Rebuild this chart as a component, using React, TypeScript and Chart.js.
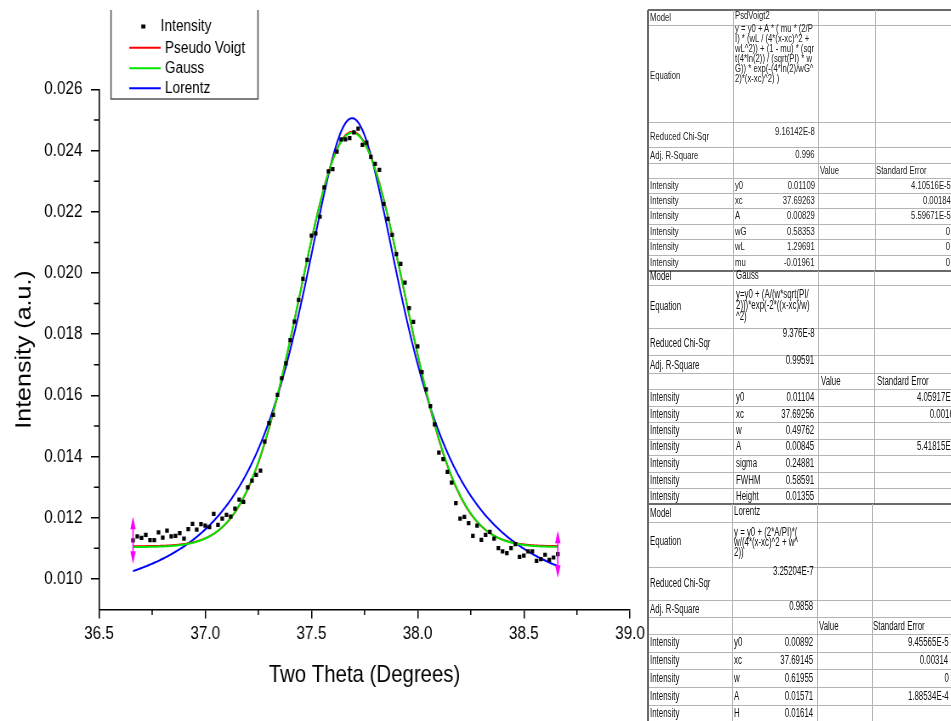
import { useEffect, useRef } from "react";
import { Chart, registerables } from "chart.js";

Chart.register(...registerables);

// ---- measured pattern (2θ in degrees, intensity in a.u.) ----
const twoTheta = [
  36.66, 36.68, 36.70, 36.72, 36.74, 36.76, 36.78, 36.80, 36.82, 36.84,
  36.86, 36.88, 36.90, 36.92, 36.94, 36.96, 36.98, 37.00, 37.02, 37.04,
  37.06, 37.08, 37.10, 37.12, 37.14, 37.16, 37.18, 37.20, 37.22, 37.24,
  37.26, 37.28, 37.30, 37.32, 37.34, 37.36, 37.38, 37.40, 37.42, 37.44,
  37.46, 37.48, 37.50, 37.52, 37.54, 37.56, 37.58, 37.60, 37.62, 37.64,
  37.66, 37.68, 37.70, 37.72, 37.74, 37.76, 37.78, 37.80, 37.82, 37.84,
  37.86, 37.88, 37.90, 37.92, 37.94, 37.96, 37.98, 38.00, 38.02, 38.04,
  38.06, 38.08, 38.10, 38.12, 38.14, 38.16, 38.18, 38.20, 38.22, 38.24,
  38.26, 38.28, 38.30, 38.32, 38.34, 38.36, 38.38, 38.40, 38.42, 38.44,
  38.46, 38.48, 38.50, 38.52, 38.54, 38.56, 38.58, 38.60, 38.62, 38.64,
  38.66,
];

const intensity = [
  0.01126, 0.01139, 0.01134, 0.01144, 0.01127, 0.01127, 0.01152, 0.01135, 0.01158, 0.01139,
  0.01141, 0.01150, 0.01132, 0.01163, 0.01180, 0.01161, 0.01179, 0.01174, 0.01169, 0.01213,
  0.01177, 0.01197, 0.01209, 0.01204, 0.01230, 0.01259, 0.01252, 0.01299, 0.01321, 0.01340,
  0.01354, 0.01449, 0.01509, 0.01536, 0.01602, 0.01656, 0.01705, 0.01781, 0.01841, 0.01912,
  0.01981, 0.02043, 0.02122, 0.02130, 0.02184, 0.02280, 0.02332, 0.02340, 0.02397, 0.02437,
  0.02437, 0.02441, 0.02460, 0.02472, 0.02419, 0.02426, 0.02380, 0.02357, 0.02337, 0.02226,
  0.02177, 0.02125, 0.02062, 0.02030, 0.01969, 0.01885, 0.01840, 0.01760, 0.01676, 0.01620,
  0.01565, 0.01505, 0.01413, 0.01392, 0.01350, 0.01315, 0.01248, 0.01197, 0.01203, 0.01182,
  0.01141, 0.01174, 0.01128, 0.01144, 0.01154, 0.01132, 0.01101, 0.01090, 0.01084, 0.01101,
  0.01114, 0.01072, 0.01076, 0.01090, 0.01090, 0.01059, 0.01065, 0.01079, 0.01062, 0.01070,
  0.01081,
];

const xTicks = [36.5, 37.0, 37.5, 38.0, 38.5, 39.0];
const xMinorTicks = [36.75, 37.25, 37.75, 38.25, 38.75];
const yTicks = [0.01, 0.012, 0.014, 0.016, 0.018, 0.02, 0.022, 0.024, 0.026];
const yMinorTicks = [0.011, 0.013, 0.015, 0.017, 0.019, 0.021, 0.023, 0.025];

const legendLabels = ["Intensity", "Pseudo Voigt", "Gauss", "Lorentz"];
const seriesColors = ["#000000", "#ff0000", "#00e600", "#0000ff"];

// ---- fit reports: [parameter, value, standard error] ----
const psdVoigtRows = [
  ["y0", "0.01109", "4.10516E-5"],
  ["xc", "37.69263", "0.00184"],
  ["A", "0.00829", "5.59671E-5"],
  ["wG", "0.58353", "0"],
  ["wL", "1.29691", "0"],
  ["mu", "-0.01961", "0"],
];
const psdVoigtEquation = [
  "y = y0 + A * ( mu * (2/P",
  "I) * (wL / (4*(x-xc)^2 +",
  "wL^2)) + (1 - mu) * (sqr",
  "t(4*ln(2)) / (sqrt(PI) * w",
  "G)) * exp(-(4*ln(2)/wG^",
  "2)*(x-xc)^2) )",
];
const psdVoigtStats = ["9.16142E-8", "0.996"];

const gaussRows = [
  ["y0", "0.01104", "4.05917E-5"],
  ["xc", "37.69256", "0.00165"],
  ["w", "0.49762", "0"],
  ["A", "0.00845", "5.41815E-5"],
  ["sigma", "0.24881", ""],
  ["FWHM", "0.58591", ""],
  ["Height", "0.01355", ""],
];
const gaussEquation = ["y=y0 + (A/(w*sqrt(PI/", "2)))*exp(-2*((x-xc)/w)", "^2)"];
const gaussStats = ["9.376E-8", "0.99591"];

const lorentzRows = [
  ["y0", "0.00892", "9.45565E-5"],
  ["xc", "37.69145", "0.00314"],
  ["w", "0.61955", "0"],
  ["A", "0.01571", "1.88534E-4"],
  ["H", "0.01614", ""],
];
const lorentzEquation = ["y = y0 + (2*A/PI)*(", "w/(4*(x-xc)^2 + w^", "2))"];
const lorentzStats = ["3.25204E-7", "0.9858"];

const FONT = "'Liberation Sans', Arial, Helvetica, sans-serif";
const SQUEEZE = 0.85; // horizontal squeeze applied to the plot panel
const PANEL_W = 790;
const PANEL_H = 721;

const param = (rows: string[][], name: string) => Number(rows.find((r) => r[0] === name)![1]);

// model functions, evaluated with the reported parameters
function psdVoigt(x: number) {
  const y0 = param(psdVoigtRows, "y0"), xc = param(psdVoigtRows, "xc"), A = param(psdVoigtRows, "A");
  const wG = param(psdVoigtRows, "wG"), wL = param(psdVoigtRows, "wL"), mu = param(psdVoigtRows, "mu");
  const d = x - xc;
  const lor = (2 / Math.PI) * (wL / (4 * d * d + wL * wL));
  const gau = (Math.sqrt(4 * Math.LN2) / (Math.sqrt(Math.PI) * wG)) * Math.exp((-4 * Math.LN2 / (wG * wG)) * d * d);
  return y0 + A * (mu * lor + (1 - mu) * gau);
}
function gauss(x: number) {
  const y0 = param(gaussRows, "y0"), xc = param(gaussRows, "xc"), w = param(gaussRows, "w"), A = param(gaussRows, "A");
  return y0 + (A / (w * Math.sqrt(Math.PI / 2))) * Math.exp(-2 * ((x - xc) / w) ** 2);
}
function lorentz(x: number) {
  const y0 = param(lorentzRows, "y0"), xc = param(lorentzRows, "xc"), w = param(lorentzRows, "w"), A = param(lorentzRows, "A");
  return y0 + ((2 * A) / Math.PI) * (w / (4 * (x - xc) ** 2 + w * w));
}

function fitCurve(f: (x: number) => number) {
  const x0 = twoTheta[0];
  const x1 = twoTheta[twoTheta.length - 1];
  const n = 400;
  const pts = [];
  for (let i = 0; i <= n; i++) {
    const x = x0 + ((x1 - x0) * i) / n;
    pts.push({ x, y: f(x) });
  }
  return pts;
}

// minor ticks, fit-range markers and the legend box
const decorPlugin = {
  id: "decor",
  afterDraw(chart: any) {
    const ctx = chart.ctx as CanvasRenderingContext2D;
    const xs = chart.scales.x;
    const ys = chart.scales.y;
    const area = chart.chartArea;
    ctx.save();
    ctx.strokeStyle = "#000";
    ctx.lineWidth = 1.5;
    ctx.beginPath();
    for (const v of xMinorTicks) {
      const px = xs.getPixelForValue(v);
      ctx.moveTo(px, area.bottom);
      ctx.lineTo(px, area.bottom + 5.5);
    }
    for (const v of yMinorTicks) {
      const py = ys.getPixelForValue(v);
      ctx.moveTo(area.left - 6, py);
      ctx.lineTo(area.left, py);
    }
    ctx.stroke();

    // fit range markers at the first and last data point
    ctx.strokeStyle = "#ff00ff";
    ctx.fillStyle = "#ff00ff";
    for (const i of [0, twoTheta.length - 1]) {
      const px = xs.getPixelForValue(twoTheta[i]);
      const py = ys.getPixelForValue(intensity[i]);
      const half = 23.5;
      ctx.lineWidth = 1.5;
      ctx.beginPath();
      ctx.moveTo(px, py - half + 4);
      ctx.lineTo(px, py + half - 4);
      ctx.stroke();
      ctx.beginPath();
      ctx.moveTo(px, py - half);
      ctx.lineTo(px - 3.2, py - half + 12.5);
      ctx.lineTo(px + 3.2, py - half + 12.5);
      ctx.closePath();
      ctx.fill();
      ctx.beginPath();
      ctx.moveTo(px, py + half);
      ctx.lineTo(px - 3.2, py + half - 12.5);
      ctx.lineTo(px + 3.2, py + half - 12.5);
      ctx.closePath();
      ctx.fill();
    }

    // legend
    ctx.strokeStyle = "#555";
    ctx.lineWidth = 1.5;
    ctx.beginPath();
    ctx.moveTo(130.6, 10);
    ctx.lineTo(130.6, 99);
    ctx.lineTo(303.5, 99);
    ctx.lineTo(303.5, 10);
    ctx.stroke();

    ctx.font = `16px ${FONT}`;
    ctx.textBaseline = "middle";
    ctx.textAlign = "left";
    ctx.fillStyle = seriesColors[0];
    ctx.fillRect(168.6 - 2.4, 24.5, 4.8, 4);
    ctx.fillText(legendLabels[0], 189.1, 27);
    const rowsY = [47.7, 68.3, 88.3];
    for (let k = 1; k < legendLabels.length; k++) {
      const y = rowsY[k - 1];
      ctx.strokeStyle = seriesColors[k];
      ctx.lineWidth = 2;
      ctx.beginPath();
      ctx.moveTo(152.1, y);
      ctx.lineTo(189.1, y);
      ctx.stroke();
      ctx.fillStyle = "#000";
      ctx.fillText(legendLabels[k], 194.1, y + 0.5);
    }
    ctx.restore();
  },
};

function PlotPanel() {
  const ref = useRef<HTMLCanvasElement | null>(null);
  useEffect(() => {
    if (!ref.current) return;
    const chart = new Chart(ref.current, {
      type: "scatter",
      data: {
        datasets: [
          {
            label: legendLabels[0],
            data: twoTheta.map((x, i) => ({ x, y: intensity[i] })),
            pointStyle: "rect",
            pointRadius: 3,
            pointBorderWidth: 0,
            backgroundColor: seriesColors[0],
            borderColor: seriesColors[0],
            showLine: false,
            order: 0,
          },
          {
            label: legendLabels[1],
            data: fitCurve(psdVoigt),
            showLine: true,
            pointRadius: 0,
            borderColor: seriesColors[1],
            borderWidth: 2,
            order: 2,
          },
          {
            label: legendLabels[2],
            data: fitCurve(gauss),
            showLine: true,
            pointRadius: 0,
            borderColor: seriesColors[2],
            borderWidth: 2,
            order: 1,
          },
          {
            label: legendLabels[3],
            data: fitCurve(lorentz),
            showLine: true,
            pointRadius: 0,
            borderColor: seriesColors[3],
            borderWidth: 2,
            order: 3,
          },
        ],
      } as any,
      options: {
        animation: false,
        responsive: false,
        devicePixelRatio: 1,
        events: [],
        layout: { padding: { left: 0, top: 89.5, right: PANEL_W - 741.2, bottom: 0 } },
        plugins: { legend: { display: false }, tooltip: { enabled: false } },
        scales: {
          x: {
            type: "linear",
            min: 36.5,
            max: 39,
            afterBuildTicks: (s: any) => {
              s.ticks = xTicks.map((v) => ({ value: v }));
            },
            afterFit: (s: any) => {
              s.height = 111.5;
            },
            ticks: {
              callback: (v: any) => Number(v).toFixed(1),
              font: { family: FONT, size: 18 },
              color: "#000",
              padding: 5,
              maxRotation: 0,
              autoSkip: false,
            },
            grid: { drawOnChartArea: false, tickLength: 9, color: "#000", lineWidth: 1.5 },
            border: { display: true, color: "#000", width: 1.5 },
            title: {
              display: true,
              text: "Two Theta (Degrees)",
              font: { family: FONT, size: 24 },
              color: "#000",
              padding: { top: 0, bottom: 31.6 },
            },
          },
          y: {
            type: "linear",
            min: 0.009,
            max: 0.026,
            afterBuildTicks: (s: any) => {
              s.ticks = yTicks.map((v) => ({ value: v }));
            },
            afterFit: (s: any) => {
              s.width = 116.5;
            },
            ticks: {
              callback: (v: any) => Number(v).toFixed(3),
              font: { family: FONT, size: 18 },
              color: "#000",
              padding: 10,
            },
            grid: { drawOnChartArea: false, tickLength: 9.5, color: "#000", lineWidth: 1.5 },
            border: { display: true, color: "#000", width: 1.5 },
            title: {
              display: true,
              text: "Intensity (a.u.)",
              font: { family: FONT, size: 25 },
              color: "#000",
              padding: { top: 13.8, bottom: 0 },
            },
          },
        },
      } as any,
      plugins: [decorPlugin],
    });
    return () => chart.destroy();
  }, []);

  return (
    <div
      style={{
        position: "absolute",
        left: 0,
        top: 0,
        width: PANEL_W,
        height: PANEL_H,
        transform: `scaleX(${SQUEEZE})`,
        transformOrigin: "0 0",
      }}
    >
      <canvas ref={ref} width={PANEL_W} height={PANEL_H} style={{ display: "block" }} />
    </div>
  );
}

type Geom = {
  edges: number[];
  cols: number[];
  modelY: number;
  nameY: number;
  eqLabelY: number;
  eqY: number[];
  chiLabelY: number;
  chiY: number;
  r2LabelY: number;
  r2Y: number;
  headY: number;
  rowY: number[];
  nameX: number;
  valueR: number;
  valueHeadX: number;
  seHeadX: number;
  seR: number;
  fontSize: number;
  squeeze: number;
  color: string;
};

type Txt = { x: number; y: number; s: string; right?: boolean };

function ReportTable({
  g,
  model,
  equation,
  stats,
  rows,
}: {
  g: Geom;
  model: string;
  equation: string[];
  stats: string[];
  rows: string[][];
}) {
  const texts: Txt[] = [
    { x: 650, y: g.modelY, s: "Model" },
    { x: g.nameX, y: g.nameY, s: model },
    { x: 650, y: g.eqLabelY, s: "Equation" },
    ...equation.map((s, i) => ({ x: g.nameX, y: g.eqY[i], s })),
    { x: 650, y: g.chiLabelY, s: "Reduced Chi-Sqr" },
    { x: g.valueR, y: g.chiY, s: stats[0], right: true },
    { x: 650, y: g.r2LabelY, s: "Adj. R-Square" },
    { x: g.valueR, y: g.r2Y, s: stats[1], right: true },
    { x: g.valueHeadX, y: g.headY, s: "Value" },
    { x: g.seHeadX, y: g.headY, s: "Standard Error" },
  ];
  rows.forEach((r, i) => {
    texts.push({ x: 650, y: g.rowY[i], s: "Intensity" });
    texts.push({ x: g.nameX, y: g.rowY[i], s: r[0] });
    texts.push({ x: g.valueR, y: g.rowY[i], s: r[1], right: true });
    if (r[2]) texts.push({ x: g.seR, y: g.rowY[i], s: r[2], right: true });
  });
  const top = g.edges[0];
  const bottom = g.edges[g.edges.length - 1];
  const lh = g.fontSize + 2;
  return (
    <>
      {g.edges.map((y, i) => (
        <div
          key={"h" + i}
          style={{
            position: "absolute",
            left: g.cols[0],
            top: i === 0 ? y - 1 : y,
            width: 951 - g.cols[0],
            height: 0,
            borderTop: i === 0 ? "2px solid #6a6a6a" : "1px solid #b4b4b4",
          }}
        />
      ))}
      {g.cols.map((x, i) => (
        <div
          key={"v" + i}
          style={{
            position: "absolute",
            left: i === 0 ? x - 1 : x,
            top,
            width: 0,
            height: bottom - top,
            borderLeft: i === 0 ? "2px solid #6a6a6a" : "1px solid #b4b4b4",
          }}
        />
      ))}
      {texts.map((t, i) => (
        <div
          key={"t" + i}
          style={{
            position: "absolute",
            top: t.y - lh / 2,
            height: lh,
            lineHeight: lh + "px",
            fontFamily: FONT,
            fontSize: g.fontSize,
            color: g.color,
            whiteSpace: "nowrap",
            transform: `scaleX(${g.squeeze})`,
            ...(t.right
              ? { right: 951 - t.x, transformOrigin: "right center" }
              : { left: t.x, transformOrigin: "left center" }),
          }}
        >
          {t.s}
        </div>
      ))}
    </>
  );
}

const psdVoigtGeom: Geom = {
  edges: [10, 25, 121.7, 146.7, 163.3, 178.3, 193.3, 208.3, 224, 239.3, 255, 270.5],
  cols: [648, 733, 818, 875],
  modelY: 17.5,
  nameY: 15.5,
  eqLabelY: 75,
  eqY: [28.3, 38.3, 48.3, 58.3, 68.3, 78.3],
  chiLabelY: 136.7,
  chiY: 131.7,
  r2LabelY: 155.7,
  r2Y: 154.3,
  headY: 170.7,
  rowY: [185.7, 200.7, 215.7, 231.3, 246.7, 262.3],
  nameX: 735,
  valueR: 814.5,
  valueHeadX: 820,
  seHeadX: 876,
  seR: 950.5,
  fontSize: 11,
  squeeze: 0.7,
  color: "#222",
};

const gaussGeom: Geom = {
  edges: [270.5, 285, 327.7, 355, 372.7, 389, 405.7, 422.3, 439, 455, 471.7, 488.3, 504],
  cols: [648, 733, 818, 874],
  modelY: 276.7,
  nameY: 275.5,
  eqLabelY: 306.7,
  eqY: [294.3, 305, 316],
  chiLabelY: 343.3,
  chiY: 333.3,
  r2LabelY: 365,
  r2Y: 360.7,
  headY: 381,
  rowY: [397.7, 414.3, 430.7, 446.7, 463.3, 480, 496],
  nameX: 735.5,
  valueR: 814.5,
  valueHeadX: 820.5,
  seHeadX: 876.5,
  seR: 958,
  fontSize: 12.5,
  squeeze: 0.63,
  color: "#111",
};

const lorentzGeom: Geom = {
  edges: [504, 521.7, 566.7, 600, 616.7, 634, 651.7, 669.3, 687.3, 705, 722],
  cols: [648, 732, 817, 872],
  modelY: 513.3,
  nameY: 511.7,
  eqLabelY: 541.7,
  eqY: [532.5, 542.5, 552.5],
  chiLabelY: 583.3,
  chiY: 571.7,
  r2LabelY: 609.3,
  r2Y: 606,
  headY: 626,
  rowY: [642.7, 660.7, 678.3, 696, 713.3],
  nameX: 733.5,
  valueR: 813.5,
  valueHeadX: 819,
  seHeadX: 873,
  seR: 948.5,
  fontSize: 12.5,
  squeeze: 0.63,
  color: "#111",
};

export default function App() {
  return (
    <div
      style={{
        position: "fixed",
        left: 0,
        top: 0,
        width: 951,
        height: 721,
        overflow: "hidden",
        background: "#fff",
      }}
    >
      <PlotPanel />
      <ReportTable g={psdVoigtGeom} model="PsdVoigt2" equation={psdVoigtEquation} stats={psdVoigtStats} rows={psdVoigtRows} />
      <ReportTable g={gaussGeom} model="Gauss" equation={gaussEquation} stats={gaussStats} rows={gaussRows} />
      <ReportTable g={lorentzGeom} model="Lorentz" equation={lorentzEquation} stats={lorentzStats} rows={lorentzRows} />
    </div>
  );
}
